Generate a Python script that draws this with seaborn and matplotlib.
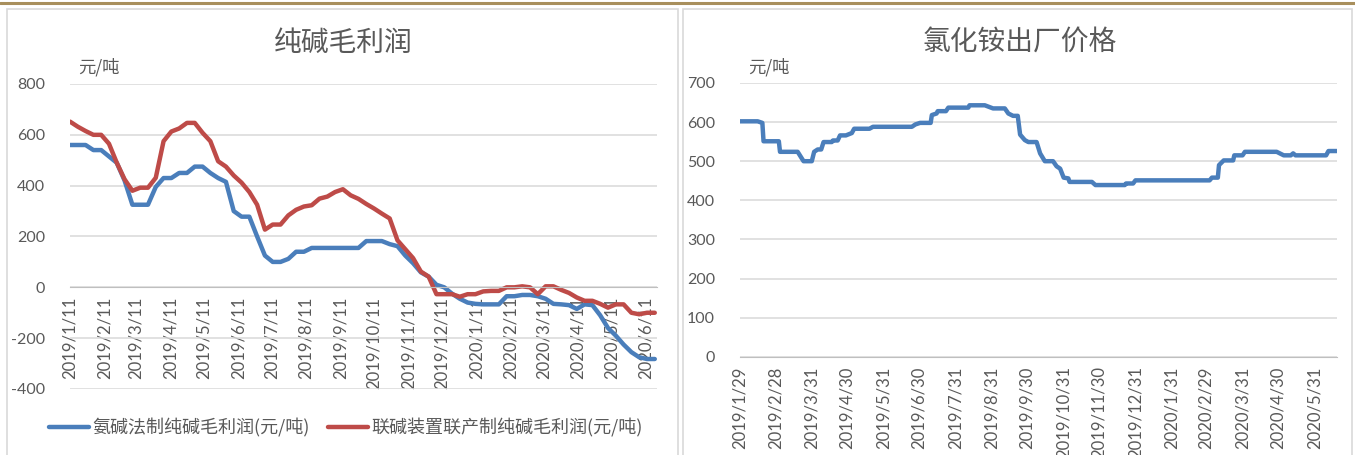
import pandas as pd
import numpy as np
import matplotlib
matplotlib.use("Agg")
import matplotlib.pyplot as plt
from matplotlib.patches import Rectangle
from matplotlib.lines import Line2D
import seaborn as sns

# --- left chart: soda ash gross profit, weekly from 2019-01-11 ---
profit_start = "2019-01-11"
ammonia_soda = [560, 560, 560, 540, 540, 515, 490, 420, 325, 325,
                325, 395, 430, 430, 450, 450, 475, 475, 450, 430,
                415, 300, 278, 278, 200, 125, 100, 100, 112, 140,
                140, 155, 155, 155, 155, 155, 155, 155, 182, 182,
                182, 170, 162, 125, 95, 59, 42, 10, 0, -25,
                -45, -60, -65, -67, -67, -67, -35, -35, -30, -30,
                -35, -45, -65, -67, -70, -85, -67, -70, -110, -160,
                -190, -225, -255, -275, -282, -282]
joint_soda = [652, 632, 615, 600, 600, 565, 490, 425, 380, 392,
              392, 431, 575, 613, 625, 647, 647, 608, 575, 496,
              475, 440, 412, 375, 325, 227, 247, 247, 283, 305,
              318, 323, 349, 357, 375, 386, 362, 348, 328, 310,
              290, 271, 185, 150, 115, 62, 42, -27, -27, -27,
              -37, -27, -27, -16, -14, -14, 0, 0, 4, 0,
              -27, 4, 4, -10, -22, -40, -53, -53, -65, -80,
              -67, -67, -100, -106, -100, -100]
profit_labels = ["氨碱法制纯碱毛利润(元/吨)", "联碱装置联产制纯碱毛利润(元/吨)"]
profit_ticks = pd.date_range("2019-01-01", "2020-06-01", freq="MS") + pd.Timedelta(days=10)

# --- right chart: ammonium chloride ex-factory price ---
nh4cl_dates = ["2019-01-29", "2019-02-13", "2019-02-17", "2019-02-18", "2019-03-03",
               "2019-03-04", "2019-03-19", "2019-03-24", "2019-03-31", "2019-04-02",
               "2019-04-05", "2019-04-08", "2019-04-10", "2019-04-17", "2019-04-18",
               "2019-04-22", "2019-04-24", "2019-04-29", "2019-05-04", "2019-05-06",
               "2019-05-19", "2019-05-22", "2019-06-24", "2019-06-27", "2019-07-01",
               "2019-07-10", "2019-07-11", "2019-07-15", "2019-07-16", "2019-07-23",
               "2019-07-25", "2019-08-11", "2019-08-12", "2019-08-25", "2019-09-01",
               "2019-09-11", "2019-09-14", "2019-09-18", "2019-09-22", "2019-09-24",
               "2019-09-28", "2019-10-01", "2019-10-08", "2019-10-11", "2019-10-15",
               "2019-10-22", "2019-10-25", "2019-10-28", "2019-10-31", "2019-11-04",
               "2019-11-05", "2019-11-24", "2019-11-27", "2019-12-22", "2019-12-23",
               "2019-12-29", "2019-12-31", "2020-03-03", "2020-03-05", "2020-03-10",
               "2020-03-11", "2020-03-15", "2020-03-23", "2020-03-24", "2020-03-31",
               "2020-04-02", "2020-04-29", "2020-05-05", "2020-05-11", "2020-05-13",
               "2020-05-15", "2020-06-10", "2020-06-12", "2020-06-19"]
nh4cl_price = [602, 602, 598, 551, 551,
               524, 524, 500, 500, 524,
               530, 530, 549, 549, 553,
               553, 566, 566, 572, 583,
               583, 588, 588, 594, 598,
               598, 618, 622, 628, 628,
               637, 637, 643, 643, 635,
               635, 622, 616, 616, 568,
               554, 549, 549, 520, 500,
               500, 487, 481, 458, 456,
               447, 447, 439, 439, 443,
               443, 451, 451, 458, 458,
               490, 502, 502, 515, 515,
               524, 524, 515, 515, 520,
               515, 515, 526, 526]
nh4cl_ticks = ["2019-01-29", "2019-02-28", "2019-03-31", "2019-04-30", "2019-05-31",
               "2019-06-30", "2019-07-31", "2019-08-31", "2019-09-30", "2019-10-31",
               "2019-11-30", "2019-12-31", "2020-01-31", "2020-02-29", "2020-03-31",
               "2020-04-30", "2020-05-31"]

profit = pd.DataFrame({
    "date": pd.date_range(profit_start, periods=len(ammonia_soda), freq="7D"),
    "ammonia": ammonia_soda,
    "joint": joint_soda,
})
nh4cl = pd.DataFrame({"date": pd.to_datetime(nh4cl_dates), "price": nh4cl_price})

sns.set_style("white")
plt.rcParams["font.family"] = ["Noto Sans CJK SC", "DejaVu Sans"]
plt.rcParams["axes.unicode_minus"] = False

BLUE = "#4A7EBB"
RED = "#BE4B48"
GRID = "#D9D9D9"
TXT = "#595959"
NUM = ["Lato", "Noto Sans CJK SC"]

fig = plt.figure(figsize=(13.55, 4.55), dpi=100)
W, H = 1355.0, 455.0

# page decorations: gold rule and panel frames
fig.add_artist(Line2D([0, 1], [1 - 3 / H, 1 - 3 / H], color="#A88F5C", lw=2.2))
for x0, x1 in [(7, 678), (683, 1352)]:
    fig.add_artist(Rectangle((x0 / W, -0.01), (x1 - x0) / W, 1.01 - 9 / H,
                             fill=False, ec="#D9D9D9", lw=1.2))


def style_axes(ax):
    for s in ["top", "right", "left"]:
        ax.spines[s].set_visible(False)
    ax.spines["bottom"].set_color("#BFBFBF")
    ax.spines["bottom"].set_position(("data", 0))
    ax.grid(axis="y", color=GRID, lw=1.1)
    ax.grid(axis="x", visible=False)
    ax.set_axisbelow(True)
    ax.tick_params(axis="x", direction="out", length=5, color="#BFBFBF", width=1,
                   pad=2, labelsize=12, labelcolor=TXT, rotation=90)
    ax.tick_params(axis="y", length=0, pad=18, labelsize=11.5, labelcolor=TXT)
    for lab in ax.get_xticklabels() + ax.get_yticklabels():
        lab.set_family(NUM)
    ax.set_xlabel("")
    ax.set_ylabel("")


# left panel
ax1 = fig.add_axes([70 / W, 1 - 389 / H, (657 - 70) / W, (389 - 84) / H])
sns.lineplot(data=profit, x="date", y="ammonia", ax=ax1, color=BLUE, lw=3.2,
             label=profit_labels[0], legend=False)
sns.lineplot(data=profit, x="date", y="joint", ax=ax1, color=RED, lw=3.2,
             label=profit_labels[1], legend=False)
ax1.set_ylim(-400, 800)
ax1.set_yticks(range(-400, 801, 200))
ax1.set_xlim(pd.Timestamp("2019-01-11"), pd.Timestamp("2020-06-21"))
ax1.set_xticks(profit_ticks)
ax1.set_xticklabels([f"{d.year}/{d.month}/{d.day}" for d in profit_ticks])
style_axes(ax1)
fig.text(343 / W, 1 - 43 / H, "纯碱毛利润", ha="center", va="center",
         fontsize=20, color=TXT)
fig.text(78 / W, 1 - 67 / H, "元/吨", ha="left", va="center", fontsize=12.5, color=TXT)
handles = [Line2D([], [], color=BLUE, lw=3.2), Line2D([], [], color=RED, lw=3.2)]
fig.legend(handles, profit_labels, loc="center", bbox_to_anchor=(346 / W, 1 - 428 / H),
           ncol=2, frameon=False, fontsize=13, labelcolor=TXT, handlelength=2.2,
           handletextpad=0.2, columnspacing=1.0)

# right panel
ax2 = fig.add_axes([740 / W, 1 - 356.7 / H, (1336.7 - 740) / W, (356.7 - 83) / H])
sns.lineplot(data=nh4cl, x="date", y="price", ax=ax2, color=BLUE, lw=3.2)
ax2.set_ylim(0, 700)
ax2.set_yticks(range(0, 701, 100))
ax2.set_xlim(pd.Timestamp("2019-01-29"), pd.Timestamp("2020-06-19"))
tick_dates = pd.to_datetime(nh4cl_ticks)
ax2.set_xticks(tick_dates)
ax2.set_xticklabels([f"{d.year}/{d.month}/{d.day}" for d in tick_dates])
style_axes(ax2)
fig.text(1020 / W, 1 - 43 / H, "氯化铵出厂价格", ha="center", va="center",
         fontsize=20, color=TXT)
fig.text(748 / W, 1 - 67 / H, "元/吨", ha="left", va="center", fontsize=12.5, color=TXT)

fig.savefig("out.png", dpi=100)
